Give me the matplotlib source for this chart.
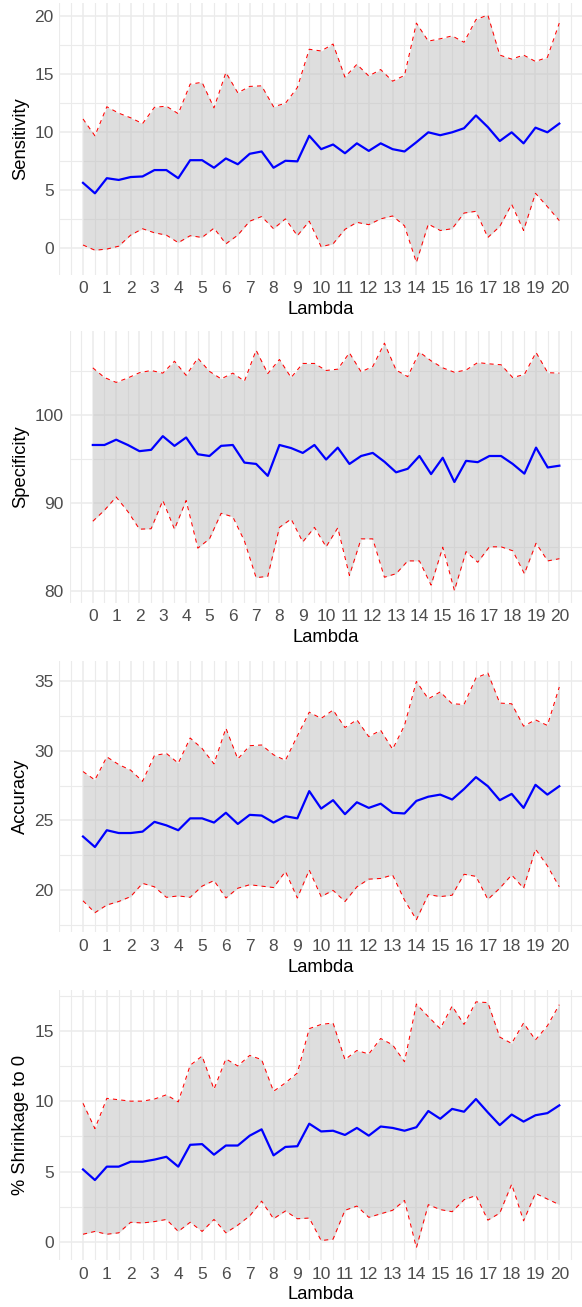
import numpy as np
import matplotlib.pyplot as plt
from matplotlib.ticker import MultipleLocator
from matplotlib.transforms import blended_transform_factory

plt.rcParams['font.family'] = ['Liberation Sans', 'DejaVu Sans']

lambdas = [0, 0.5, 1, 1.5, 2, 2.5, 3, 3.5, 4, 4.5, 5, 5.5, 6, 6.5, 7, 7.5,
           8, 8.5, 9, 9.5, 10, 10.5, 11, 11.5, 12, 12.5, 13, 13.5, 14, 14.5,
           15, 15.5, 16, 16.5, 17, 17.5, 18, 18.5, 19, 19.5, 20]

sens_mean = [5.6, 4.7, 6.0, 5.85, 6.1, 6.15, 6.7, 6.7, 6.0, 7.55, 7.55, 6.9, 7.7, 7.2,
             8.1, 8.3, 6.9, 7.5, 7.45, 9.65, 8.5, 8.9, 8.15, 9.0, 8.35, 9.0, 8.5, 8.3,
             9.1, 9.95, 9.7, 9.95, 10.3, 11.4, 10.4, 9.2, 9.95, 9.0, 10.35, 9.95, 10.7]
sens_upper = [11.1, 9.65, 12.15, 11.6, 11.2, 10.7, 12.1, 12.2, 11.55, 14.1, 14.25, 12.05,
              15.1, 13.35, 13.9, 13.95, 12.15, 12.45, 13.8, 17.1, 16.95, 17.55, 14.7, 15.8,
              14.8, 15.35, 14.35, 14.85, 19.35, 17.8, 18.0, 18.25, 17.7, 19.65, 20.05,
              16.6, 16.25, 16.6, 16.05, 16.4, 19.35]
sens_lower = [0.25, -0.2, -0.1, 0.15, 1.1, 1.65, 1.3, 1.1, 0.45, 1.05, 0.9, 1.7, 0.35,
              1.1, 2.3, 2.7, 1.65, 2.5, 1.05, 2.3, 0.1, 0.35, 1.6, 2.2, 2.0, 2.5, 2.75,
              1.9, -1.25, 2.05, 1.5, 1.65, 3.0, 3.15, 0.9, 1.85, 3.75, 1.5, 4.7, 3.55, 2.35]

spec_mean = [96.6, 96.6, 97.2, 96.6, 95.9, 96.05, 97.6, 96.5, 97.45, 95.55, 95.35, 96.5,
             96.6, 94.6, 94.45, 93.1, 96.6, 96.25, 95.7, 96.6, 94.95, 96.3, 94.45, 95.35,
             95.7, 94.7, 93.5, 93.9, 95.35, 93.3, 95.15, 92.4, 94.8, 94.65, 95.35, 95.35,
             94.45, 93.35, 96.3, 94.05, 94.25]
spec_upper = [105.35, 104.25, 103.7, 104.2, 104.8, 105.05, 104.75, 106.1, 104.5, 106.45,
              104.95, 104.1, 104.75, 103.85, 107.35, 104.7, 106.3, 104.25, 105.85, 105.85,
              105.05, 105.2, 107.05, 104.9, 105.5, 108.15, 105.1, 104.35, 107.15, 106.15,
              105.35, 104.85, 105.1, 105.95, 105.8, 105.7, 104.25, 104.6, 107.1, 104.8, 104.75]
spec_lower = [87.95, 89.2, 90.7, 89.05, 87.05, 87.1, 90.3, 87.05, 90.3, 84.9, 85.95, 88.85,
              88.45, 85.7, 81.55, 81.7, 87.25, 88.2, 85.6, 87.25, 85.05, 87.2, 81.8, 85.95,
              85.95, 81.6, 82.0, 83.45, 83.45, 80.7, 85.0, 80.1, 84.5, 83.3, 85.05, 85.05,
              84.6, 82.0, 85.45, 83.45, 83.7]

acc_mean = [23.85, 23.1, 24.3, 24.1, 24.1, 24.2, 24.9, 24.65, 24.3, 25.15, 25.15, 24.85,
            25.55, 24.75, 25.4, 25.35, 24.85, 25.3, 25.15, 27.1, 25.85, 26.45, 25.45, 26.3,
            25.9, 26.2, 25.55, 25.5, 26.4, 26.7, 26.85, 26.5, 27.25, 28.1, 27.45, 26.45,
            26.9, 25.9, 27.55, 26.85, 27.45]
acc_upper = [28.5, 27.9, 29.55, 29.0, 28.6, 27.8, 29.65, 29.8, 29.1, 30.9, 30.15, 29.05,
             31.6, 29.4, 30.35, 30.4, 29.7, 29.3, 31.05, 32.75, 32.3, 32.9, 31.65, 32.2,
             31.0, 31.45, 30.1, 31.8, 34.95, 33.7, 34.2, 33.35, 33.3, 35.2, 35.55, 33.4,
             33.35, 31.75, 32.2, 31.8, 34.55]
acc_lower = [19.25, 18.4, 18.95, 19.2, 19.55, 20.5, 20.25, 19.5, 19.6, 19.5, 20.3, 20.7,
             19.45, 20.15, 20.4, 20.3, 20.2, 21.35, 19.45, 21.45, 19.55, 20.0, 19.2, 20.25,
             20.8, 20.85, 21.1, 19.3, 17.9, 19.7, 19.55, 19.65, 21.15, 21.0, 19.35, 20.15,
             21.1, 20.15, 22.95, 21.75, 20.25]

shrink_mean = [5.15, 4.4, 5.35, 5.35, 5.7, 5.7, 5.85, 6.05, 5.35, 6.9, 6.95, 6.2, 6.85,
               6.85, 7.55, 8.0, 6.15, 6.75, 6.8, 8.4, 7.85, 7.9, 7.6, 8.1, 7.55, 8.2, 8.1,
               7.9, 8.15, 9.3, 8.75, 9.45, 9.25, 10.15, 9.2, 8.3, 9.05, 8.55, 9.0, 9.15, 9.7]
shrink_upper = [9.85, 8.05, 10.2, 10.1, 10.0, 10.0, 10.15, 10.45, 9.95, 12.55, 13.2, 10.85,
                13.0, 12.5, 13.25, 12.95, 10.7, 11.3, 12.0, 15.15, 15.45, 15.55, 12.95, 13.6,
                13.35, 14.45, 14.0, 12.8, 16.9, 16.0, 15.15, 16.75, 15.45, 17.05, 17.0,
                14.55, 14.1, 15.55, 14.35, 15.35, 16.85]
shrink_lower = [0.55, 0.75, 0.55, 0.65, 1.4, 1.35, 1.45, 1.6, 0.75, 1.4, 0.75, 1.6, 0.65,
                1.2, 1.85, 2.9, 1.65, 2.2, 1.65, 1.7, 0.1, 0.2, 2.25, 2.55, 1.75, 2.0, 2.25,
                2.95, -0.4, 2.65, 2.3, 2.15, 3.0, 3.3, 1.55, 2.05, 4.1, 1.5, 3.45, 3.05, 2.65]

W, H = 582, 1307
fig = plt.figure(figsize=(W / 100, H / 100), dpi=100)

# (ylabel, mean, lower, upper, y break step, panel box in px: left, top, right, bottom)
panels = [
    ('Sensitivity', sens_mean, sens_lower, sens_upper, 5, (59.2, 2.6, 583.1, 274.8)),
    ('Specificity', spec_mean, spec_lower, spec_upper, 10, (69.5, 330.8, 582.7, 602.8)),
    ('Accuracy', acc_mean, acc_lower, acc_upper, 5, (59.2, 660.7, 583.1, 932.0)),
    ('% Shrinkage to 0', shrink_mean, shrink_lower, shrink_upper, 5, (59.2, 989.6, 583.1, 1259.9)),
]

grid_col = '#EBEBEB'
for ylabel, mean, lower, upper, step, (l, t, r, b) in panels:
    ax = fig.add_axes([l / W, 1 - b / H, (r - l) / W, (b - t) / H])
    ax.fill_between(lambdas, lower, upper, color='#bebebe', alpha=0.5, linewidth=0)
    ax.plot(lambdas, upper, color='red', linewidth=0.75, dashes=(4, 4))
    ax.plot(lambdas, lower, color='red', linewidth=0.75, dashes=(4, 4))
    ax.plot(lambdas, mean, color='blue', linewidth=1.6)

    # ggplot-style 5% expansion
    lo, hi = min(lower), max(upper)
    pad = (hi - lo) * 0.05
    ax.set_ylim(lo - pad, hi + pad)
    ax.set_xlim(-1, 21)

    ax.set_xticks(range(21))
    ax.xaxis.set_minor_locator(MultipleLocator(0.5))
    ax.yaxis.set_major_locator(MultipleLocator(step))
    ax.yaxis.set_minor_locator(MultipleLocator(step / 2))

    ax.set_axisbelow(True)
    ax.grid(which='major', color=grid_col, linewidth=1.1)
    ax.grid(which='minor', color=grid_col, linewidth=0.8)
    for s in ax.spines.values():
        s.set_visible(False)

    ax.tick_params(which='both', length=0, labelsize=12.5, labelcolor='#4D4D4D')
    ax.tick_params(axis='x', pad=4.8)
    ax.tick_params(axis='y', pad=4.0)

    ax.set_xlabel('Lambda', fontsize=13.2, color='black')
    ax.set_ylabel(ylabel, fontsize=13.2, color='black')
    ax.xaxis.label.set_va('center')
    ax.xaxis.set_label_coords(0.5, -35 / (b - t))
    ax.yaxis.label.set_va('center')
    ax.yaxis.set_label_coords(20.8 / W, 0.5,
                              transform=blended_transform_factory(fig.transFigure, ax.transAxes))

fig.savefig('out.png', dpi=100)
